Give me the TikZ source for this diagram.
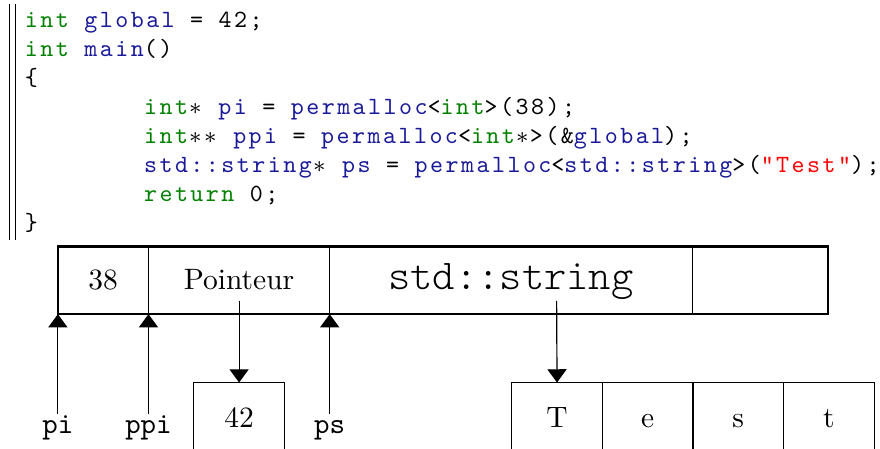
\documentclass[tikz,border=0pt]{standalone}
\usepackage{fontspec}
\usetikzlibrary{arrows.meta}

% typewriter face for the listing, widened to its column pitch
\newfontfamily\codefont[LetterSpace=10]{lmmono10-regular.otf}

\definecolor{kwgreen}{rgb}{0,0.5,0}
\definecolor{idblue}{rgb}{0.1,0.1,0.6}
\newcommand{\ckw}[1]{\textcolor{kwgreen}{#1}}
\newcommand{\cid}[1]{\textcolor{idblue}{#1}}
\newcommand{\cstr}[1]{\textcolor{red}{#1}}
\newcommand{\cast}{\hbox to 5.05pt{\hss$\ast$\hss}}

\tikzset{
  code/.style={anchor=base west, inner sep=0pt, font=\fontsize{8.4}{9.86}\selectfont\codefont},
  cell/.style={draw, inner sep=0pt, outer sep=0pt, minimum height=0.806cm,
    text height=1.5ex, text depth=0pt},
  lbl/.style={font=\ttfamily, inner sep=0pt, text height=1.5ex, anchor=base},
  arr/.style={-{Triangle[width=6.5pt,length=4.5pt]}}
}

\begin{document}
\begin{tikzpicture}
  \clip[use as bounding box] (0,0) rectangle (10.49,5.35);

  % listing
  \draw (0.113,5.30) -- (0.113,2.49);
  \draw (0.185,5.30) -- (0.185,2.49);
  \node[code] (l1) at (0.29,5.026) {\ckw{int} \cid{global} = 42;};
  \node[code] (l2) at (0.29,4.679) {\ckw{int} \cid{main}()};
  \node[code] (l3) at (0.29,4.333) {\{};
  \node[code] (l4) at (1.71,3.986) {\ckw{int}\cast{} \cid{pi} = \cid{permalloc}<\ckw{int}>(38);};
  \node[code] (l5) at (1.71,3.639) {\ckw{int}\cast\cast{} \cid{ppi} = \cid{permalloc}<\ckw{int}\cast>(\&\cid{global});};
  \node[code] (l6) at (1.71,3.292) {\cid{std::string}\cast{} \cid{ps} = \cid{permalloc}<\cid{std::string}>(\cstr{"Test"});};
  \node[code] (l7) at (1.71,2.945) {\ckw{return} 0;};
  \node[code] (l8) at (0.29,2.598) {\}};

  % memory block
  \node[cell, anchor=west, minimum width=1.08cm] (c38) at (0.69,2.008) {38};
  \node[cell, anchor=west, minimum width=2.16cm] (ptr) at (1.77,2.008) {Pointeur};
  \node[cell, anchor=west, minimum width=4.32cm, font=\Large\ttfamily\fontseries{l}\selectfont] (str) at (3.93,2.008) {std::string};
  \node[cell, anchor=west, minimum width=1.62cm] (vide) at (8.25,2.008) {};
  \draw[thick] (c38.north west) rectangle (vide.south east);

  % pointed values
  \node[cell, minimum width=1.08cm, minimum height=0.84cm] (v42) at (2.85,0.37) {42};
  \node[cell, minimum width=1.08cm, minimum height=0.84cm] (t1) at (6.64,0.37) {T};
  \node[cell, minimum width=1.08cm, minimum height=0.84cm] (t2) at (7.72,0.37) {e};
  \node[cell, minimum width=1.08cm, minimum height=0.84cm] (t3) at (8.80,0.37) {s};
  \node[cell, minimum width=1.08cm, minimum height=0.84cm] (t4) at (9.88,0.37) {t};

  \draw[arr] ([yshift=-7pt]ptr.center) -- (v42.north);
  \draw[arr] ([xshift=0.545cm,yshift=-7pt]str.center) -- (t1.north);

  % pointers
  \node[lbl] (pi) at (0.69,0.185) {pi};
  \node[lbl] (ppi) at (1.77,0.185) {ppi};
  \node[lbl] (ps) at (3.93,0.185) {ps};
  \draw[arr] (pi.north) -- (c38.south west);
  \draw[arr] (ppi.north) -- (ptr.south west);
  \draw[arr] (ps.north) -- (str.south west);
\end{tikzpicture}
\end{document}
